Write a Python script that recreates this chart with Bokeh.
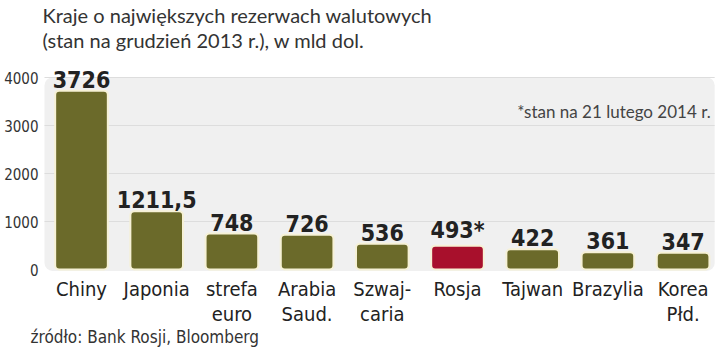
from bokeh.plotting import figure
from bokeh.models import Range1d, Label, ColumnDataSource
from bokeh.core.properties import value
from bokeh.embed import file_html
from bokeh.resources import INLINE

categories = ["Chiny", "Japonia", "strefa\neuro", "Arabia\nSaud.", "Szwaj-\ncaria",
              "Rosja", "Tajwan", "Brazylia", "Korea\nPłd."]
values = [3726, 1211.5, 748, 726, 536, 493, 422, 361, 347]
value_labels = ["3726", "1211,5", "748", "726", "536", "493*", "422", "361", "347"]
highlight = [False, False, False, False, False, True, False, False, False]
y_ticks = [0, 1000, 2000, 3000, 4000]
y_tick_labels = ["0", "1000", "2000", "3000", "4000"]

OLIVE = "#6b6a2a"
RED = "#a8102c"
COND = "DejaVu Sans Condensed, Roboto"

xs = list(range(len(categories)))
colors = [RED if h else OLIVE for h in highlight]
src = ColumnDataSource(dict(x=xs, top=values, color=colors, lab=value_labels, cat=categories))

p = figure(width=720, height=350, output_backend="svg", toolbar_location=None,
           x_range=Range1d(-1.0771, 8.4973), y_range=Range1d(-1687.5, 5604.2),
           min_border_left=0, min_border_right=0, min_border_top=0, min_border_bottom=0,
           x_axis_type=None, y_axis_type=None)
p.outline_line_color = None
p.background_fill_color = "white"
p.border_fill_color = "white"
p.xgrid.grid_line_color = None
p.ygrid.grid_line_color = None

# panel background
p.quad(left=[-0.492], right=[8.42], bottom=[-30], top=[4000], fill_color="#f0f0f0",
       line_color=None, border_radius=8)
# gridlines
p.segment(x0=[-0.492] * 4, x1=[8.42] * 4, y0=y_ticks[1:], y1=y_ticks[1:],
          line_color="#dddddd", line_width=1.2)

# y tick labels
p.text(x=[-0.5718] * len(y_ticks), y=y_ticks, text=y_tick_labels, text_align="right",
       text_baseline="middle", text_font=value(COND), text_font_size="15px",
       text_color="#333333")

# bars
p.vbar(x="x", top="top", bottom=0, width=0.7, source=src, fill_color="color",
       line_color="#f6f1d6", line_width=2, border_radius=4)

# value labels
p.text(x="x", y="top", text="lab", source=src, text_align="center", text_baseline="bottom",
       y_offset=-3, text_font=value(COND), text_font_style="bold", text_font_size="23px",
       text_color="#222222")

# category labels
p.text(x="x", y=0, text="cat", source=src, text_align="center", text_baseline="top",
       y_offset=7, text_font=value(COND), text_font_size="20px", text_color="#222222",
       text_line_height=1.05)

p.add_layout(Label(x=8.42, y=3300, text="*stan na 21 lutego 2014 r.", text_align="right",
                   text_baseline="middle", text_font="Lato", text_font_style="normal",
                   text_font_size="17px", text_color="#444444", x_offset=-4))

p.add_layout(Label(x=-0.5186, y=5604, text="Kraje o największych rezerwach walutowych",
                   text_baseline="top", y_offset=-2, text_font="Lato",
                   text_font_size="20px", text_color="#333333"))
p.add_layout(Label(x=-0.5186, y=5604, text="(stan na grudzień 2013 r.), w mld dol.",
                   text_baseline="top", y_offset=-27, text_font="Lato",
                   text_font_size="20px", text_color="#333333"))
p.add_layout(Label(x=-0.678, y=-1687, text="źródło: Bank Rosji, Bloomberg",
                   text_baseline="bottom", y_offset=3, text_font=COND,
                   text_font_size="17px", text_color="#333333"))

open("out.html", "w").write(file_html(p, INLINE))
